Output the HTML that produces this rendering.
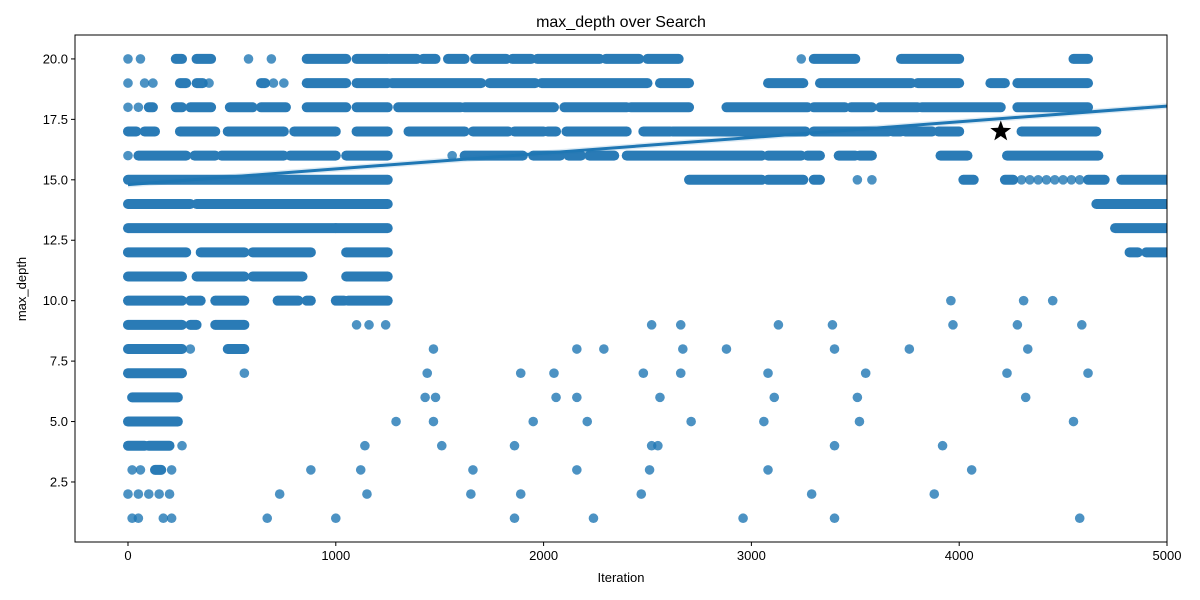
<!DOCTYPE html>
<html><head><meta charset="utf-8"><style>
html,body{margin:0;padding:0;background:#fff;}
svg{display:block;font-family:"Liberation Sans","DejaVu Sans",sans-serif;}
</style></head><body>
<svg id="chart" width="1200" height="600">
<defs><clipPath id="clip"><rect x="75" y="35" width="1092" height="507"/></clipPath></defs>
<rect x="0" y="0" width="1200" height="600" fill="#fff"/>
<text x="621" y="27" text-anchor="middle" font-size="16">max_depth over Search</text>
<g id="plot" clip-path="url(#clip)"></g>
<g id="axes"></g>
<text x="621" y="582" text-anchor="middle" font-size="13">Iteration</text>
<text x="26" y="289" text-anchor="middle" font-size="13" transform="rotate(-90 26 289)">max_depth</text>
</svg>
<script>
const xTicks=[0,1000,2000,3000,4000,5000];
const yTicks=[2.5,5.0,7.5,10.0,12.5,15.0,17.5,20.0];
const yTickLabels=["2.5","5.0","7.5","10.0","12.5","15.0","17.5","20.0"];
// dense runs: [depth, startIteration, endIteration]
const runs=[
[20,230,260],[20,330,400],[20,860,1050],[20,1100,1250],[20,1260,1390],[20,1420,1480],[20,1540,1620],[20,1670,1820],[20,1850,1940],[20,1970,2270],[20,2300,2460],[20,2500,2650],[20,3300,3500],[20,3720,4000],[20,4550,4620],
[19,250,280],[19,330,360],[19,640,660],[19,860,1050],[19,1100,1250],[19,1270,1700],[19,1740,1960],[19,1990,2500],[19,2560,2700],[19,3080,3250],[19,3330,3770],[19,3800,4000],[19,4150,4220],[19,4280,4620],
[18,100,120],[18,230,260],[18,300,400],[18,490,600],[18,640,760],[18,860,1050],[18,1100,1250],[18,1300,1600],[18,1620,2050],[18,2100,2400],[18,2420,2700],[18,2880,3270],[18,3300,3450],[18,3480,3580],[18,3620,3800],[18,3820,4200],[18,4280,4620],
[17,0,40],[17,80,130],[17,250,420],[17,480,750],[17,800,1000],[17,1100,1250],[17,1350,1620],[17,1660,1830],[17,1860,2000],[17,2020,2060],[17,2110,2400],[17,2480,2610],[17,2620,3260],[17,3300,3660],[17,3680,3720],[17,3740,3870],[17,3900,4000],[17,4300,4660],
[16,50,280],[16,320,420],[16,450,750],[16,780,1000],[16,1050,1250],[16,1620,1900],[16,1950,2080],[16,2120,2180],[16,2220,2340],[16,2400,3050],[16,3080,3240],[16,3270,3330],[16,3420,3500],[16,3520,3580],[16,3910,4040],[16,4230,4670],
[15,0,1250],[15,2700,3050],[15,3080,3250],[15,3300,3330],[15,4020,4070],[15,4220,4260],[15,4620,4700],[15,4780,5000],
[14,0,300],[14,330,1250],[14,4660,5000],
[13,0,1000],[13,1000,1250],[13,4750,5000],
[12,0,280],[12,350,560],[12,600,880],[12,1050,1250],[12,4820,4860],[12,4900,5000],
[11,0,260],[11,330,560],[11,600,840],[11,1050,1250],
[10,0,260],[10,300,350],[10,420,560],[10,720,820],[10,860,880],[10,1000,1040],[10,1060,1250],
[9,0,260],[9,300,330],[9,420,560],
[8,0,260],[8,480,560],
[7,0,260],[6,20,240],[5,0,240],[4,0,80],[4,100,200],[3,130,160]
];
// isolated points: [depth, iteration]
const points=[
[20,0],[20,60],[20,580],[20,690],[20,3240],[19,0],[19,80],[19,120],[19,390],[19,700],[19,750],[18,0],[18,50],[16,0],[16,1560],
[15,3510],[15,3580],[15,4300],[15,4340],[15,4380],[15,4420],[15,4460],[15,4500],[15,4540],[15,4580],
[10,3960],[10,4310],[10,4450],[9,1100],[9,1160],[9,1240],[9,2520],[9,2660],[9,3130],[9,3390],[9,3970],[9,4280],[9,4590],
[8,300],[8,1470],[8,2160],[8,2290],[8,2670],[8,2880],[8,3400],[8,3760],[8,4330],
[7,560],[7,1440],[7,1890],[7,2050],[7,2480],[7,2660],[7,3080],[7,3550],[7,4230],[7,4620],
[6,1430],[6,1480],[6,2060],[6,2160],[6,2560],[6,3110],[6,3510],[6,4320],
[5,1290],[5,1470],[5,1950],[5,2210],[5,2710],[5,3060],[5,3520],[5,4550],
[4,260],[4,1140],[4,1510],[4,1860],[4,2520],[4,2550],[4,3400],[4,3920],
[3,20],[3,60],[3,210],[3,880],[3,1120],[3,1660],[3,2160],[3,2510],[3,3080],[3,4060],
[2,0],[2,50],[2,100],[2,150],[2,200],[2,730],[2,1150],[2,1650],[2,1890],[2,2470],[2,3290],[2,3880],
[1,20],[1,50],[1,170],[1,210],[1,670],[1,1000],[1,1860],[1,2240],[1,2960],[1,3400],[1,4580]
];
const regStart=[0,14.8];
const regEnd=[5000,18.05];
const best=[4200,17];

const L=75,R=1167,T=35,B=542;
const xMin=-255,xMax=5000,yMin=0.017,yMax=20.99;
const sx=v=>L+(v-xMin)/(xMax-xMin)*(R-L);
const sy=v=>B-(v-yMin)/(yMax-yMin)*(B-T);
const NS="http://www.w3.org/2000/svg";
const plot=document.getElementById('plot'),axes=document.getElementById('axes');
function mk(tag,at,parent){const e=document.createElementNS(NS,tag);for(const k in at)e.setAttribute(k,at[k]);parent.appendChild(e);return e;}
runs.forEach(r=>{
  const e=mk('line',{x1:sx(r[1]),x2:sx(r[2]),y1:sy(r[0]),y2:sy(r[0]),stroke:'#2a7bb6','stroke-width':10,'stroke-linecap':'round'},plot);
  
  
});
points.forEach(p=>{
  const e=mk('circle',{cx:sx(p[1]),cy:sy(p[0]),r:4.8,fill:'#1f77b4','fill-opacity':0.8},plot);
  
  
});
const band=mk('polygon',{points:`${sx(regStart[0])},${sy(regStart[1]+0.12)} ${sx(regEnd[0])},${sy(regEnd[1]+0.12)} ${sx(regEnd[0])},${sy(regEnd[1]-0.12)} ${sx(regStart[0])},${sy(regStart[1]-0.12)}`,fill:'#1f77b4','fill-opacity':0.15},plot);


const rl=mk('line',{x1:sx(regStart[0]),y1:sy(regStart[1]),x2:sx(regEnd[0]),y2:sy(regEnd[1]),stroke:'#1f77b4','stroke-width':3},plot);


(function(){const cx=sx(best[0]),cy=sy(best[1]);let pts=[];for(let i=0;i<10;i++){const a=-Math.PI/2+i*Math.PI/5,rr=i%2?4.5:11;pts.push((cx+rr*Math.cos(a)).toFixed(1)+','+(cy+rr*Math.sin(a)).toFixed(1));}
const s=mk('polygon',{points:pts.join(' '),fill:'#000'},plot);

})();
const fr=mk('rect',{x:L,y:T,width:R-L,height:B-T,fill:'none',stroke:'#000','stroke-width':1},axes);


xTicks.forEach(t=>{const x=sx(t);
  mk('line',{x1:x,x2:x,y1:B,y2:B+4,stroke:'#000'},axes);
  const tx=mk('text',{x:x,y:B+18,'text-anchor':'middle','font-size':13},axes);tx.textContent=t;
  
  });
yTicks.forEach((t,i)=>{const y=sy(t);
  mk('line',{x1:L-4,x2:L,y1:y,y2:y,stroke:'#000'},axes);
  const tx=mk('text',{x:L-7,y:y+4.5,'text-anchor':'end','font-size':13},axes);tx.textContent=yTickLabels[i];
  
  });
</script>
</body></html>
